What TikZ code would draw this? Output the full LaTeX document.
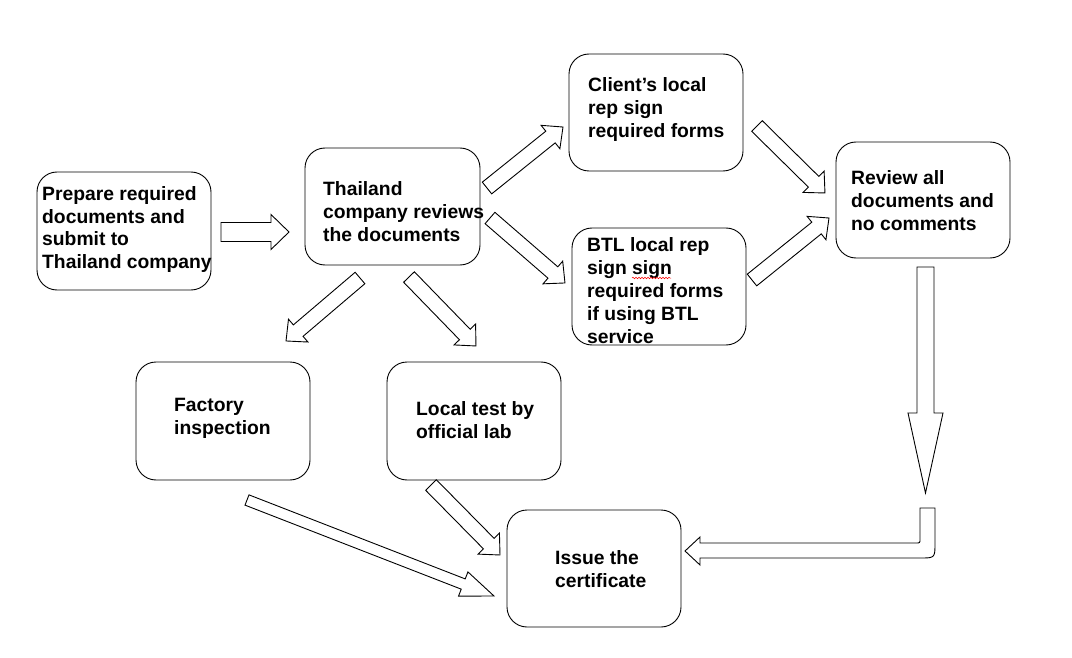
\documentclass[tikz,border=0pt]{standalone}
\usepackage{fontspec}
\setmainfont{Liberation Sans}
\usetikzlibrary{calc,decorations.pathmorphing}
\tikzset{
  box/.style={draw=black, line width=0.9pt, rounded corners=20pt, inner sep=0pt},
  txt/.style={anchor=base west, align=left, inner sep=0pt, text=black,
    font=\fontsize{19.3}{23}\selectfont\bfseries},
  arr/.style={draw=black, line width=0.9pt, fill=white, line join=miter},
}
\newcommand\blockarrow[5]{%
  \draw[arr] let \p1=(#1), \p2=(#2),
    \n1={atan2(\y2-\y1,\x2-\x1)}, \n2={veclen(\x2-\x1,\y2-\y1)} in
    [shift={(\p1)}, rotate=\n1]
    (0,-#3) -- ({\n2-#5},-#3) -- ({\n2-#5},-#4) -- (\n2,0) --
    ({\n2-#5},#4) -- ({\n2-#5},#3) -- (0,#3) -- cycle;}
\begin{document}
\begin{tikzpicture}[x=1pt,y=-1pt]
\useasboundingbox[fill=white] (0,0) rectangle (1072,658);
% boxes
\node[box, minimum width=174pt, minimum height=118pt] (prep) at (124,231) {};
\node[box, minimum width=175pt, minimum height=117pt] (thai) at (392.5,206.5) {};
\node[box, minimum width=174pt, minimum height=117pt] (client) at (656,112.5) {};
\node[box, minimum width=174pt, minimum height=117pt] (btl) at (659,286.5) {};
\node[box, minimum width=174pt, minimum height=116pt] (review) at (923,200) {};
\node[box, minimum width=174pt, minimum height=118pt] (factory) at (223,421) {};
\node[box, minimum width=174pt, minimum height=118pt] (lab) at (474,421) {};
\node[box, minimum width=174pt, minimum height=117pt] (issue) at (594,568.5) {};
% texts (anchored at the baseline of the last line)
\node[txt] (prept) at (42,269) {Prepare required\\documents and\\submit to\\Thailand company};
\node[txt] (thait) at (323,241) {Thailand\\company reviews\\the documents};
\node[txt] (clientt) at (588,138) {Client’s local\\rep sign\\required forms};
\node[txt] (btlt) at (587,343) {BTL local rep\\sign sign\\required forms\\if using BTL\\service};
\node[txt] (reviewt) at (851,230) {Review all\\documents and\\no comments};
\node[txt] (factoryt) at (174,434) {Factory\\inspection};
\node[txt] (labt) at (416,438) {Local test by\\official lab};
\node[txt] (issuet) at (555,587) {Issue the\\certificate};
\coordinate (sq1) at (632,278);
\coordinate (sq2) at (671,278);
\draw[red, line width=0.5pt, decorate, decoration={snake, amplitude=0.8pt, segment length=3pt}] (sq1) -- (sq2);
% arrow end points
\coordinate (a1s) at (221,232);   \coordinate (a1e) at (289,232);
\coordinate (a2s) at (487,188);   \coordinate (a2e) at (563,127);
\coordinate (a3s) at (490,218);   \coordinate (a3e) at (565,283);
\coordinate (a4s) at (360,278);   \coordinate (a4e) at (286,341);
\coordinate (a5s) at (409,277);   \coordinate (a5e) at (476,346);
\coordinate (a6s) at (757,126);   \coordinate (a6e) at (825,193);
\coordinate (a7s) at (752,280);   \coordinate (a7e) at (829,218);
\coordinate (a8s) at (925.5,267); \coordinate (a8e) at (925.5,493);
\coordinate (a10s) at (431,485);  \coordinate (a10e) at (500,555);
\coordinate (a11s) at (247,500);  \coordinate (a11e) at (494,596);
\blockarrow{a1s}{a1e}{9.5}{17.5}{18}
\blockarrow{a2s}{a2e}{7.5}{15}{16}
\blockarrow{a3s}{a3e}{7.5}{15}{16}
\blockarrow{a4s}{a4e}{7.5}{15}{16}
\blockarrow{a5s}{a5e}{7.5}{15}{16}
\blockarrow{a6s}{a6e}{7.5}{15}{16}
\blockarrow{a7s}{a7e}{7.5}{15}{16}
\blockarrow{a8s}{a8e}{8.5}{17.5}{80}
\blockarrow{a10s}{a10e}{7.5}{15}{16}
\blockarrow{a11s}{a11e}{5.5}{13}{33}
% bent arrow
\coordinate (b1) at (920,508);
\coordinate (b2) at (935,508);
\coordinate (btip) at (685,551);
\draw[arr] (b1) -- (b2) -- (935,543) .. controls (935,558) .. (920,558)
  -- (700,558) -- (700,565) -- (btip) -- (700,537) -- (700,543)
  -- (916,543) .. controls (920,543) .. (920,539) -- cycle;
\end{tikzpicture}
\end{document}
